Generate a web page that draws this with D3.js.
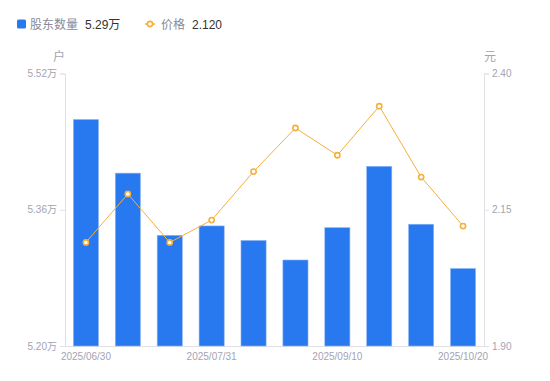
<!DOCTYPE html>
<html><head><meta charset="utf-8">
<script src="https://cdn.jsdelivr.net/npm/d3@7/dist/d3.min.js"></script>
<style>
html,body{margin:0;padding:0;background:#fff;}
svg{display:block;font-family:"Liberation Sans","Noto Sans CJK SC",sans-serif;}
</style></head>
<body><svg id="chart" width="550" height="381"></svg>
<script>
const categories = ["2025/06/30","2025/07/10","2025/07/20","2025/07/31","2025/08/20","2025/08/31","2025/09/10","2025/09/19","2025/09/30","2025/10/20"];
const holders = [5.466, 5.403, 5.330, 5.341, 5.324, 5.301, 5.339, 5.411, 5.343, 5.291];
const price = [2.090, 2.179, 2.090, 2.131, 2.220, 2.300, 2.250, 2.340, 2.210, 2.120];
const leftTicks = [5.20, 5.36, 5.52];
const rightTicks = [1.90, 2.15, 2.40];
const xLabelIdx = [0, 3, 6, 9];

(function () {
const svg = d3.select("#chart");
const pLeft = 65, pRight = 484, pTop = 73.5, pBottom = 346;
const axisColor = "#e0e0e6", labelColor = "#a3a3b3";
const barColor = "#2878f0", lineColor = "#f5b03a";
const fontFam = "'Liberation Sans','Noto Sans CJK SC',sans-serif";

const x = d3.scaleBand().domain(categories).range([pLeft, pRight]).paddingInner(0.4).paddingOuter(0.2);
const yL = d3.scaleLinear().domain([5.20, 5.52]).range([pBottom, pTop]);
const yR = d3.scaleLinear().domain([1.90, 2.40]).range([pBottom, pTop]);

const gL = svg.append("g").attr("transform", `translate(${pLeft},0)`)
  .call(d3.axisLeft(yL).tickValues(leftTicks).tickSize(5).tickPadding(3).tickFormat(d => d3.format(".2f")(d) + "万"));
const gR = svg.append("g").attr("transform", `translate(${pRight},0)`)
  .call(d3.axisRight(yR).tickValues(rightTicks).tickSize(5).tickPadding(3).tickFormat(d3.format(".2f")));
[gL, gR].forEach(g => {
  g.select(".domain").attr("stroke", axisColor);
  g.selectAll(".tick line").attr("stroke", axisColor);
  g.selectAll(".tick text").attr("fill", labelColor).attr("font-size", 10).attr("font-family", fontFam);
});
const gX = svg.append("g").attr("transform", `translate(0,${pBottom})`)
  .call(d3.axisBottom(x).tickValues(xLabelIdx.map(i => categories[i])).tickSize(0).tickPadding(7));
gX.select(".domain").attr("stroke", axisColor);
gX.selectAll(".tick text").attr("fill", labelColor).attr("font-size", 10).attr("font-family", fontFam);

svg.append("text").attr("x", 59).attr("y", 61).attr("text-anchor", "middle").attr("fill", labelColor).attr("font-size", 12).text("户");
svg.append("text").attr("x", 490).attr("y", 61).attr("text-anchor", "middle").attr("fill", labelColor).attr("font-size", 12).text("元");

svg.append("g").selectAll("rect").data(holders).join("rect")
  .attr("x", (d, i) => x(categories[i]))
  .attr("y", d => yL(d))
  .attr("width", x.bandwidth())
  .attr("height", d => pBottom - yL(d))
  .attr("fill", barColor)
  .attr("stroke", "#8fb8f7").attr("stroke-width", 0.6);

const line = d3.line().x((d, i) => x(categories[i]) + x.bandwidth() / 2).y(d => yR(d));
svg.append("path").datum(price).attr("d", line).attr("fill", "none").attr("stroke", lineColor).attr("stroke-width", 1);
svg.append("g").selectAll("circle").data(price).join("circle")
  .attr("cx", (d, i) => x(categories[i]) + x.bandwidth() / 2)
  .attr("cy", d => yR(d)).attr("r", 2.6)
  .attr("fill", "#fff").attr("stroke", lineColor).attr("stroke-width", 1.6);

const lg = svg.append("g");
lg.append("rect").attr("x", 17).attr("y", 19.5).attr("width", 9).attr("height", 9).attr("rx", 1.5).attr("fill", barColor);
lg.append("text").attr("x", 30).attr("y", 28.5).attr("font-size", 12).attr("fill", "#8a8a99").text("股东数量");
lg.append("text").attr("x", 85).attr("y", 28.5).attr("font-size", 12).attr("fill", "#333").text(d3.format(".2f")(holders[holders.length - 1]) + "万");
lg.append("line").attr("x1", 145).attr("x2", 155).attr("y1", 24).attr("y2", 24).attr("stroke", lineColor).attr("stroke-width", 1.5);
lg.append("circle").attr("cx", 150).attr("cy", 24).attr("r", 2.6).attr("fill", "#fff").attr("stroke", lineColor).attr("stroke-width", 1.6);
lg.append("text").attr("x", 161).attr("y", 28.5).attr("font-size", 12).attr("fill", "#8a8a99").text("价格");
lg.append("text").attr("x", 192).attr("y", 28.5).attr("font-size", 12).attr("fill", "#333").text(d3.format(".3f")(price[price.length - 1]));
})();
</script></body></html>
